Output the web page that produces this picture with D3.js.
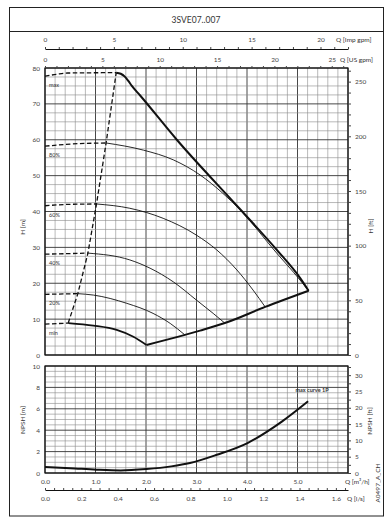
<!DOCTYPE html>
<html>
<head>
<meta charset="utf-8">
<script src="https://cdn.jsdelivr.net/npm/d3@7"></script>
<style>
  body { margin: 0; background: #fff; }
  text { font-family: Lato, "Open Sans", sans-serif; fill: #333; }
</style>
</head>
<body>
<div id="chart"></div>
<script>
// pump curve data, Q in m3/h, H in m
const qTicks = [0, 1, 2, 3, 4, 5];
const lsTicks = [0, 0.2, 0.4, 0.6, 0.8, 1.0, 1.2, 1.4, 1.6];
const impTicks = [0, 5, 10, 15, 20];
const usTicks = [0, 5, 10, 15, 20, 25];
const hTicks = [0, 10, 20, 30, 40, 50, 60, 70, 80];
const hFtTicks = [0, 50, 100, 150, 200, 250];
const npshTicks = [0, 2, 4, 6, 8, 10];
const npshFtTicks = [0, 5, 10, 15, 20, 25, 30];

const speedNames = ["max", "80%", "60%", "40%", "20%", "min"];

// dashed part of each speed curve (below allowed flow)
const dashMax = [[0, 77.7], [0.25, 78.3], [0.45, 78.6], [1.41, 78.7]];
const dash80 = [[0, 58.2], [0.5, 58.8], [1.21, 59.1]];
const dash60 = [[0, 41.6], [0.5, 42.0], [1.02, 42.1]];
const dash40 = [[0, 28.1], [0.85, 28.4]];
const dash20 = [[0, 16.9], [0.65, 17.1]];
const dashMin = [[0, 8.6], [0.46, 8.9]];

// min flow line joining the curves
const minFlowLine = [[0.46, 8.9], [0.65, 17.1], [0.85, 28.4], [1.02, 42.1], [1.21, 59.1], [1.41, 78.7]];

// solid parts
const curveMax = [[1.41, 78.7], [1.5, 78.4], [1.58, 77.6], [1.65, 76.4], [1.72, 75.0], [1.88, 72.4], [2.61, 60.0], [3.86, 40.7], [4.59, 29.3], [5.05, 21.5], [5.22, 17.9]];
const curve80 = [[1.21, 59.1], [1.95, 57.1], [2.54, 54.4], [3.07, 50.2], [3.52, 45.1], [3.86, 40.5], [4.57, 28.7], [5.05, 20.9], [5.22, 17.9]];
const curve60 = [[1.02, 42.1], [1.68, 40.9], [2.34, 38.1], [3.0, 33.4], [3.40, 29.3], [3.80, 23.7], [4.12, 18.1], [4.36, 13.4]];
const curve40 = [[0.85, 28.4], [1.68, 26.5], [2.08, 24.2], [2.54, 20.4], [3.0, 15.3], [3.33, 11.6], [3.56, 8.9]];
const curve20 = [[0.65, 17.1], [0.96, 16.7], [1.62, 14.4], [2.14, 11.6], [2.48, 8.8], [2.77, 5.6]];
const curveMin = [[0.46, 8.9], [0.96, 8.2], [1.42, 7.0], [1.75, 5.1], [2.01, 2.8]];

// max flow boundary
const maxFlowLine = [[2.01, 2.8], [2.77, 5.6], [3.07, 6.8], [3.56, 8.9], [4.36, 13.4], [5.22, 17.9]];

// NPSH, m
const npshCurve = [[0, 0.56], [0.5, 0.45], [1.02, 0.31], [1.5, 0.24], [2.01, 0.37], [2.5, 0.62], [2.87, 0.93], [3.4, 1.7], [4.01, 2.8], [4.69, 4.8], [5.21, 6.7]];

const M_TO_FT = 3.28084;
const IMP_GPM = 0.272765; // m3/h
const US_GPM = 0.227125;

const W = 389, H = 525;
const svg = d3.select("#chart").append("svg").attr("width", W).attr("height", H);

const x = d3.scaleLinear().domain([0, 6]).range([45, 348]);
const yH = d3.scaleLinear().domain([0, 80]).range([355, 68]);
const yHft = d3.scaleLinear().domain([0, 80 * M_TO_FT]).range([355, 68]);
const yN = d3.scaleLinear().domain([0, 10]).range([473, 366]);
const yNft = d3.scaleLinear().domain([0, 10 * M_TO_FT]).range([473, 366]);
const xImp = d3.scaleLinear().domain([0, 6 / IMP_GPM]).range([45, 348]);
const xUs = d3.scaleLinear().domain([0, 6 / US_GPM]).range([45, 348]);
const xLs = d3.scaleLinear().domain([0, 6 / 3.6]).range([45, 348]);

// frame + title
svg.append("rect").attr("x", 9.5).attr("y", 7.5).attr("width", 374).attr("height", 508.5)
    .attr("fill", "none").attr("stroke", "#222").attr("stroke-width", 1);
svg.append("line").attr("x1", 9.5).attr("x2", 383.5).attr("y1", 31.5).attr("y2", 31.5)
    .attr("stroke", "#222");
svg.append("text").attr("x", 196).attr("y", 22.5).attr("text-anchor", "middle")
    .style("font-size", "8.5px").text("3SVE07..007");

function isMult(d, s) { return Math.abs(d / s - Math.round(d / s)) < 1e-6; }

function drawGrid(yScale, yMinor, yMajor) {
    let g = svg.append("g");
    let y0 = yScale.range()[0], y1 = yScale.range()[1];
    let qs = d3.range(0, 6.001, 0.2);
    g.selectAll(".v").data(qs).enter().append("line")
        .attr("x1", d => x(d)).attr("x2", d => x(d))
        .attr("y1", y0).attr("y2", y1)
        .attr("stroke", d => isMult(d, 1) ? "#333" : "#8a8a8a")
        .attr("stroke-width", d => isMult(d, 1) ? 0.9 : 0.6);
    let top = yScale.domain()[1];
    let hs = d3.range(0, top + 0.001, yMinor);
    g.selectAll(".h").data(hs).enter().append("line")
        .attr("x1", x(0)).attr("x2", x(6))
        .attr("y1", d => yScale(d)).attr("y2", d => yScale(d))
        .attr("stroke", d => isMult(d, yMajor) ? "#333" : "#8a8a8a")
        .attr("stroke-width", d => isMult(d, yMajor) ? 0.9 : 0.6);
    g.append("rect").attr("x", x(0)).attr("y", y1).attr("width", x(6) - x(0)).attr("height", y0 - y1)
        .attr("fill", "none").attr("stroke", "#111").attr("stroke-width", 1.2);
}
drawGrid(yH, 2.5, 10);
drawGrid(yN, 0.5, 2);

function styleAxis(g) {
    g.selectAll("text").style("font-size", "6.5px").style("fill", "#444");
    g.selectAll("line").attr("stroke", "#444");
}

// left / right axes
svg.append("g").attr("transform", "translate(45,0)")
    .call(d3.axisLeft(yH).tickValues(hTicks).tickSize(0).tickPadding(5))
    .call(g => g.select(".domain").remove()).call(styleAxis);
svg.append("g").attr("transform", "translate(45,0)")
    .call(d3.axisLeft(yN).tickValues(npshTicks).tickSize(0).tickPadding(5))
    .call(g => g.select(".domain").remove()).call(styleAxis);

svg.append("g").attr("transform", "translate(348,0)")
    .call(d3.axisRight(yHft).tickValues(d3.range(0, 261, 10)).tickSize(3).tickPadding(4)
        .tickFormat(d => hFtTicks.includes(d) ? d : ""))
    .call(g => g.select(".domain").remove()).call(styleAxis);
svg.append("g").attr("transform", "translate(348,0)")
    .call(d3.axisRight(yNft).tickValues(d3.range(0, 32.6, 2.5)).tickSize(3).tickPadding(4)
        .tickFormat(d => npshFtTicks.includes(d) ? d : ""))
    .call(g => g.select(".domain").remove()).call(styleAxis);

// top axes
svg.append("g").attr("transform", "translate(0,49)")
    .call(d3.axisTop(xImp).tickValues(d3.range(0, 22.5, 1)).tickSize(2).tickSizeOuter(0).tickPadding(5)
        .tickFormat(d => impTicks.includes(d) ? d : ""))
    .call(g => g.select(".domain").attr("stroke", "#111"))
    .call(styleAxis);
svg.append("g").attr("transform", "translate(0,68)")
    .call(d3.axisTop(xUs).tickValues(d3.range(0, 26.5, 1)).tickSize(2).tickSizeOuter(0).tickPadding(4)
        .tickFormat(d => usTicks.includes(d) ? d : ""))
    .call(g => g.select(".domain").remove())
    .call(styleAxis);

// bottom axes
svg.append("g").attr("transform", "translate(0,473)")
    .call(d3.axisBottom(x).tickValues(qTicks).tickSize(0).tickPadding(6))
    .call(g => g.select(".domain").remove()).call(styleAxis);
svg.append("g").attr("transform", "translate(0,490)")
    .call(d3.axisBottom(xLs).tickValues(d3.range(0, 1.66, 0.05)).tickSize(-2).tickSizeOuter(0).tickPadding(6)
        .tickFormat(d => lsTicks.some(t => Math.abs(t - d) < 1e-6) ? d3.format(".1f")(d) : ""))
    .call(g => g.select(".domain").attr("stroke", "#111"))
    .call(styleAxis);

// unit labels
const unitLabels = [
    ["Q [Imp gpm]", 336, 42],
    ["Q [US gpm]", 340, 62],
    ["Q [m³/h]", 345, 484],
    ["Q [l/s]", 347, 501]
];
unitLabels.forEach(d => {
    svg.append("text").attr("x", d[1]).attr("y", d[2]).style("font-size", "6.5px").text(d[0]);
});
function vLabel(t, cx, cy) {
    svg.append("text").attr("transform", `translate(${cx},${cy}) rotate(-90)`)
        .attr("text-anchor", "middle").attr("dy", "0.35em")
        .style("font-size", "6.5px").text(t);
}
vLabel("H [m]", 23, 227);
vLabel("H [ft]", 371, 226);
vLabel("NPSH [m]", 23, 420);
vLabel("NPSH [ft]", 370, 421);
vLabel("A0497_A_CH", 378, 483);

// curves
const lineH = d3.line().x(d => x(d[0])).y(d => yH(d[1])).curve(d3.curveMonotoneX);
const lineHlin = d3.line().x(d => x(d[0])).y(d => yH(d[1]));
const curves = svg.append("g").attr("fill", "none").attr("stroke", "#111");

[dashMax, dash80, dash60, dash40, dash20, dashMin].forEach(d => {
    curves.append("path").attr("d", lineH(d))
        .attr("stroke-width", 1.3).attr("stroke-dasharray", "4.5,2.5");
});
curves.append("path").attr("d", lineHlin(minFlowLine))
    .attr("stroke-width", 1.3).attr("stroke-dasharray", "4.5,2.5");

[curve80, curve60, curve40, curve20].forEach(d => {
    curves.append("path").attr("d", lineH(d)).attr("stroke-width", 0.9);
});
curves.append("path").attr("d", lineH(curveMin)).attr("stroke-width", 1.8);
curves.append("path").attr("d", lineH(curveMax)).attr("stroke-width", 2);
curves.append("path").attr("d", lineH(maxFlowLine)).attr("stroke-width", 2);

// speed labels under each dashed start
[dashMax, dash80, dash60, dash40, dash20, dashMin].forEach((d, i) => {
    svg.append("text").attr("x", 49).attr("y", yH(d[0][1]) + 11)
        .style("font-size", "5.5px").text(speedNames[i]);
});

// NPSH
const lineN = d3.line().x(d => x(d[0])).y(d => yN(d[1])).curve(d3.curveMonotoneX);
svg.append("path").attr("d", lineN(npshCurve))
    .attr("fill", "none").attr("stroke", "#111").attr("stroke-width", 2);
svg.append("text").attr("x", 312).attr("y", 392).attr("text-anchor", "middle")
    .style("font-size", "5.5px").style("font-weight", "bold").text("max curve 1P");
</script>
</body>
</html>
